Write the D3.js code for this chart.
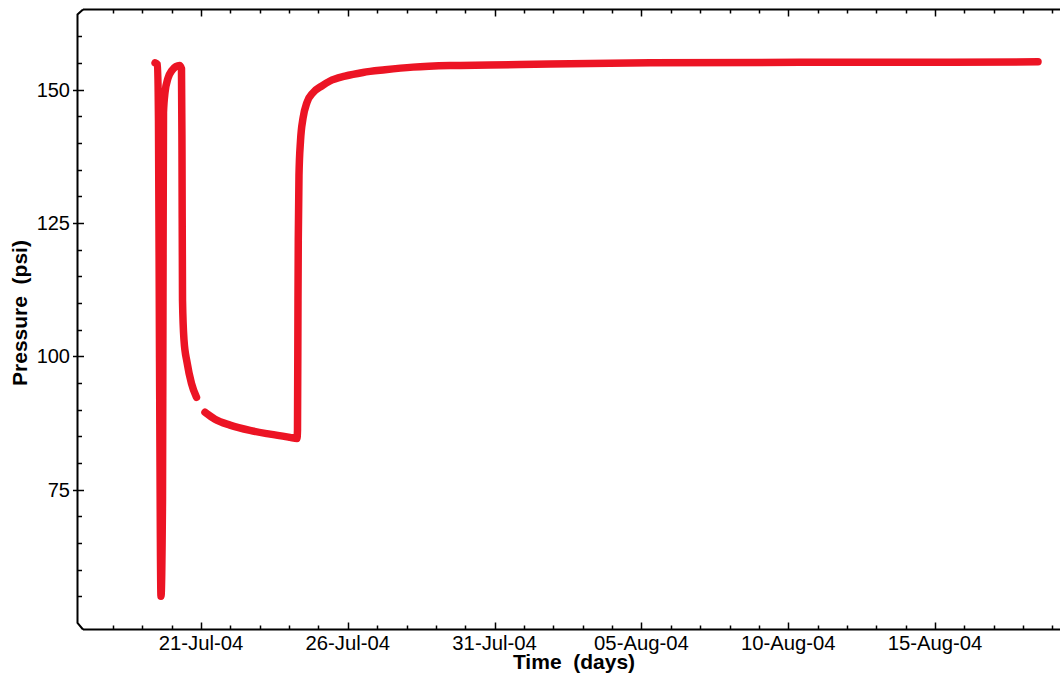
<!DOCTYPE html>
<html>
<head>
<meta charset="utf-8">
<script src="https://d3js.org/d3.v7.min.js"></script>
<style>
  html, body { margin: 0; padding: 0; background: #fff; }
  svg { display: block; }
  text { font-family: "Liberation Sans", Arial, sans-serif; fill: #000; }
</style>
</head>
<body>
<svg id="chart" width="1060" height="675"></svg>
<script>
// ---- Data (time in days since 17-Jul-2004 00:00, pressure in psi) ----
// segment 1: drawdown / buildup / second drawdown
const seg1Days = [2.433, 2.517, 2.551, 2.585, 2.636, 2.687, 2.704, 2.721, 2.772, 2.874, 3.011, 3.147, 3.266, 3.334, 3.351, 3.369, 3.420, 3.522, 3.675, 3.845];
const seg1Psi  = [155.0, 154.7, 144.2, 101.1, 55.0, 73.0, 110.5, 145.7, 149.4, 152.1, 153.6, 154.3, 154.5, 153.9, 138.6, 110.5, 103.0, 98.9, 94.9, 92.3];
// segment 2: flowing period and final buildup
const seg2Days = [4.135, 4.475, 4.986, 5.667, 6.348, 7.029, 7.268, 7.285, 7.302, 7.312, 7.336, 7.388, 7.473, 7.609, 7.813, 8.120, 8.392, 8.903, 9.516, 10.265, 11.219, 12.480, 13.842, 15.886, 19.292, 24.401, 29.510, 32.507];
const seg2Psi  = [89.5, 88.2, 87.1, 86.1, 85.4, 84.8, 84.6, 86.1, 110.5, 121.7, 133.9, 140.4, 144.6, 147.6, 149.4, 150.7, 151.6, 152.5, 153.2, 153.7, 154.2, 154.5, 154.6, 154.8, 155.0, 155.1, 155.1, 155.2];

const xTickDates = ["2004-07-21", "2004-07-26", "2004-07-31", "2004-08-05", "2004-08-10", "2004-08-15"];
const yTickValues = [75, 100, 125, 150];
const xLabel = "Time  (days)";
const yLabel = "Pressure  (psi)";

// ---- Setup ----
const svg = d3.select("#chart");
const t0 = new Date(2004, 6, 17);
const toDate = d => new Date(t0.getTime() + d * 86400000);
const parse = d3.timeParse("%Y-%m-%d");

const x = d3.scaleTime()
  .domain([t0, new Date(2004, 7, 20)])
  .range([83.6, 83.6 + 34 * 29.36]);
const y = d3.scaleLinear().domain([50, 165]).range([623, 9.5]);

const leftX = 77.5, bottomY = 629.5, topY = 9.5;

// ---- Axes frame ----
const axisG = svg.append("g").attr("stroke", "#000").attr("fill", "none");
axisG.append("path")
  .attr("stroke-width", 2)
  .attr("d", `M83,${topY} L${leftX},${topY + 5} L${leftX},${y(50)} L83,${bottomY}`);
axisG.append("line").attr("stroke-width", 2)
  .attr("x1", 83).attr("x2", 1060).attr("y1", topY).attr("y2", topY);
axisG.append("line").attr("stroke-width", 2)
  .attr("x1", 83).attr("x2", 1060).attr("y1", bottomY).attr("y2", bottomY);

// x ticks (daily minor, 5-day major) on bottom and top
const dayTicks = d3.timeDay.range(new Date(2004, 6, 18), new Date(2004, 7, 21));
const majorSet = new Set(xTickDates.map(s => +parse(s)));
dayTicks.forEach(dt => {
  const xx = Math.round(x(dt)) + 0.5;
  const major = majorSet.has(+dt);
  const len = major ? 7 : 4;
  if (xx > 1060) return;
  axisG.append("line").attr("stroke-width", 1.5)
    .attr("x1", xx).attr("x2", xx).attr("y1", bottomY).attr("y2", bottomY - len);
  axisG.append("line").attr("stroke-width", 1.5)
    .attr("x1", xx).attr("x2", xx).attr("y1", topY).attr("y2", topY + len);
});

// x tick labels
const fmt = d3.timeFormat("%d-%b-%y");
svg.append("g").selectAll("text")
  .data(xTickDates.map(parse))
  .join("text")
  .attr("x", d => x(d))
  .attr("y", 650)
  .attr("text-anchor", "middle")
  .attr("font-size", 20.3)
  .text(d => fmt(d));

// y ticks: minor every 5 psi, major every 25
d3.range(55, 165, 5).forEach(v => {
  const yy = Math.round(y(v)) + 0.5;
  const major = yTickValues.includes(v);
  axisG.append("line").attr("stroke-width", 1.5)
    .attr("x1", major ? 73 : leftX).attr("x2", major ? 84 : 82)
    .attr("y1", yy).attr("y2", yy);
});
svg.append("g").selectAll("text")
  .data(yTickValues)
  .join("text")
  .attr("x", 70)
  .attr("y", d => y(d))
  .attr("dy", "0.36em")
  .attr("text-anchor", "end")
  .attr("font-size", 20)
  .text(d => d);

// axis titles
svg.append("text")
  .attr("x", 574).attr("y", 669)
  .attr("text-anchor", "middle")
  .attr("font-size", 21).attr("font-weight", "bold")
  .style("white-space", "pre")
  .text(xLabel);
svg.append("text")
  .attr("transform", "translate(27,313) rotate(-90)")
  .attr("text-anchor", "middle")
  .attr("font-size", 21).attr("font-weight", "bold")
  .style("white-space", "pre")
  .text(yLabel);

// ---- Data line ----
const line = d3.line()
  .x(d => x(toDate(d[0])))
  .y(d => y(d[1]))
  .curve(d3.curveMonotoneX);

const segments = [
  seg1Days.map((d, i) => [d, seg1Psi[i]]),
  seg2Days.map((d, i) => [d, seg2Psi[i]])
];
svg.append("g").selectAll("path")
  .data(segments)
  .join("path")
  .attr("d", line)
  .attr("fill", "none")
  .attr("stroke", "#ec1424")
  .attr("stroke-width", 7.5)
  .attr("stroke-linecap", "round")
  .attr("stroke-linejoin", "round");
</script>
</body>
</html>
